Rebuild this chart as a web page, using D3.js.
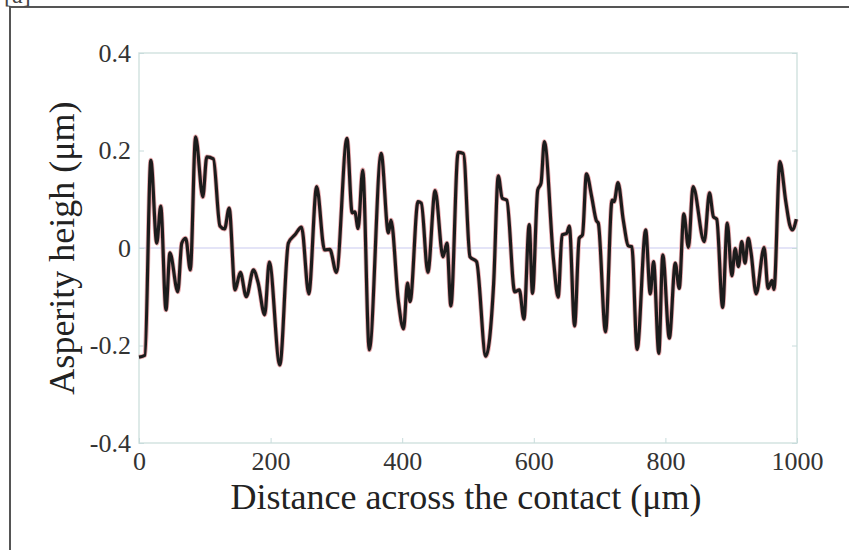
<!DOCTYPE html>
<html>
<head>
<meta charset="utf-8">
<script src="https://cdn.jsdelivr.net/npm/d3@7"></script>
<style>
  body { margin: 0; background: #fff; }
  text { font-family: "Liberation Serif", "Times New Roman", serif; }
</style>
</head>
<body>
<div id="vis"></div>
<script>
// profile: distance (um) and asperity height (um)
var distance = [0, 9, 18, 27, 33, 41, 47, 59, 65, 71, 78, 86, 97, 103, 113, 123, 130, 137, 146, 154,
  163, 174, 181, 191, 198, 214, 227, 237, 247, 258, 270, 282, 290, 300, 316, 324, 328, 333, 340, 350,
  368, 379, 383, 394, 402, 408, 412, 424, 429, 439, 450, 462, 468, 474, 485, 493, 503, 513, 527, 539,
  546, 552, 559, 571, 578, 585, 593, 598, 606, 611, 616, 630, 637, 643, 650, 654, 662, 669, 674, 680,
  688, 695, 698, 709, 719, 722, 728, 736, 744, 749, 757, 770, 777, 782, 790, 796, 806, 815, 821, 828,
  835, 842, 859, 867, 873, 878, 887, 894, 901, 906, 911, 916, 921, 926, 930, 938, 950, 956, 962, 965,
  974, 983, 989, 993, 999];
var height = [-0.224, -0.22, 0.18, 0.01, 0.086, -0.127, -0.01, -0.09, 0.01, 0.02, -0.045, 0.228, 0.105, 0.187, 0.183, 0.045, 0.039, 0.082, -0.086, -0.05,
  -0.10, -0.045, -0.071, -0.137, -0.029, -0.24, 0.01, 0.027, 0.043, -0.094, 0.126, -0.004, -0.003, -0.05, 0.225, 0.072, 0.074, 0.04, 0.16, -0.209,
  0.194, 0.031, 0.057, -0.107, -0.166, -0.072, -0.11, 0.095, 0.092, -0.05, 0.118, -0.018, 0.01, -0.119, 0.196, 0.194, -0.018, -0.028, -0.222, -0.072,
  0.148, 0.102, 0.098, -0.09, -0.086, -0.146, 0.048, -0.093, 0.119, 0.133, 0.218, -0.025, -0.101, 0.027, 0.03, 0.045, -0.16, 0.02, 0.027, 0.152,
  0.105, 0.056, 0.051, -0.172, 0.098, 0.095, 0.134, 0.057, 0.004, 0.003, -0.208, 0.037, -0.094, -0.028, -0.216, -0.014, -0.185, -0.031, -0.083, 0.07,
  0.001, 0.126, 0.013, 0.113, 0.064, 0.059, -0.122, 0.051, -0.057, -0.001, -0.038, 0.013, -0.031, 0.02, -0.008, -0.094, 0.001, -0.083, -0.067, -0.085,
  0.177, 0.095, 0.047, 0.037, 0.059];
var xTicks = [0, 200, 400, 600, 800, 1000];
var yTicks = [-0.4, -0.2, 0, 0.2, 0.4];
var yTickLabels = ['-0.4', '-0.2', '0', '0.2', '0.4'];

var width = 849, fullHeight = 550;
var margin = {top: 53, right: 52, bottom: 107, left: 139};
var w = width - margin.left - margin.right;
var h = fullHeight - margin.top - margin.bottom;

var data = distance.map(function(d, i) { return {x: d, y: height[i]}; });

var svg = d3.select('#vis').append('svg')
  .attr('width', width)
  .attr('height', fullHeight);

// outer frame (only top and left edges fall inside the crop)
svg.append('path')
  .attr('d', 'M10,' + fullHeight + 'V7H' + width)
  .attr('fill', 'none')
  .attr('stroke', '#555')
  .attr('stroke-width', 2);

svg.append('text')
  .attr('x', 4)
  .attr('y', 3)
  .attr('font-size', 24)
  .attr('fill', '#444')
  .text('[a]');

var x = d3.scaleLinear().domain([0, 1000]).range([0, w]);
var y = d3.scaleLinear().domain([-0.4, 0.4]).range([h, 0]);

var chart = svg.append('g')
  .attr('transform', 'translate(' + margin.left + ',' + margin.top + ')');

// plot box
chart.append('rect')
  .attr('width', w)
  .attr('height', h)
  .attr('fill', 'none')
  .attr('stroke', '#d3e3e1')
  .attr('stroke-width', 1.5);

// zero line
chart.append('line')
  .attr('x1', 0).attr('x2', w)
  .attr('y1', y(0)).attr('y2', y(0))
  .attr('stroke', '#c9c9ef')
  .attr('stroke-width', 1);

var xAxis = chart.append('g')
  .attr('transform', 'translate(0,' + h + ')')
  .call(d3.axisBottom(x).tickValues(xTicks).tickSize(-5).tickPadding(9).tickFormat(d3.format('d')));
var yAxis = chart.append('g')
  .call(d3.axisLeft(y).tickValues(yTicks).tickSize(-5).tickPadding(8)
    .tickFormat(function(d, i) { return yTickLabels[i]; }));

// mirror ticks on the right edge
chart.append('g')
  .attr('transform', 'translate(' + w + ',0)')
  .call(d3.axisRight(y).tickValues(yTicks).tickSize(-5).tickFormat(''));

chart.selectAll('.domain').remove();
chart.selectAll('.tick line').attr('stroke', '#c8dcdc');
chart.selectAll('.tick text')
  .style('font-family', '"Liberation Serif", "Times New Roman", serif')
  .style('font-size', '26px')
  .attr('fill', '#333');
xAxis.selectAll('.tick text').attr('dy', '0.71em');

var line = d3.line()
  .curve(d3.curveMonotoneX)
  .x(function(d) { return x(d.x); })
  .y(function(d) { return y(d.y); });

chart.append('path')
  .datum(data)
  .attr('d', line)
  .attr('fill', 'none')
  .attr('stroke', '#e8a9ad')
  .attr('stroke-width', 4.8)
  .attr('stroke-linejoin', 'round');

chart.append('path')
  .datum(data)
  .attr('d', line)
  .attr('fill', 'none')
  .attr('stroke', '#1c1c1c')
  .attr('stroke-width', 3.2)
  .attr('stroke-linejoin', 'round');

// axis titles
svg.append('text')
  .attr('x', margin.left + w / 2 - 2)
  .attr('y', 509)
  .attr('text-anchor', 'middle')
  .attr('font-size', 36)
  .attr('fill', '#222')
  .text('Distance across the contact (\u03bcm)');

svg.append('text')
  .attr('transform', 'translate(74,' + (margin.top + h / 2) + ') rotate(-90)')
  .attr('text-anchor', 'middle')
  .attr('font-size', 36)
  .attr('fill', '#222')
  .text('Asperity heigh (\u03bcm)');
</script>
</body>
</html>
